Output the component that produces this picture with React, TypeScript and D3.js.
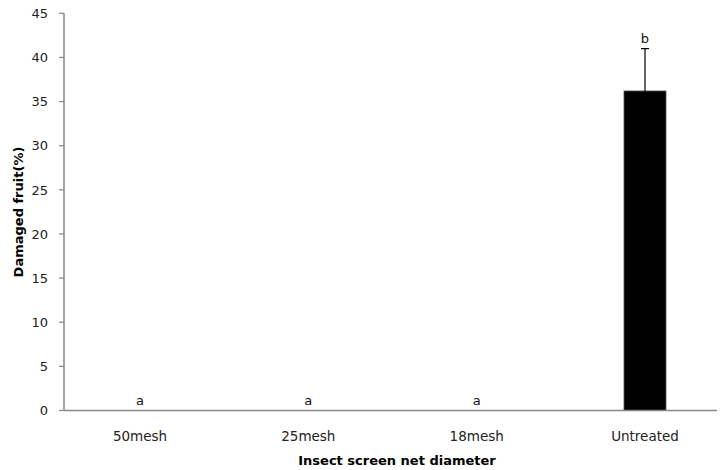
import React from "react";
import * as d3 from "d3";

const categories = ["50mesh", "25mesh", "18mesh", "Untreated"];
const values = [0, 0, 0, 36.2];
const errors = [0, 0, 0, 4.8];
const letters = ["a", "a", "a", "b"];
const yTicks = [0, 5, 10, 15, 20, 25, 30, 35, 40, 45];

const W = 720;
const H = 470;
const axisX = 64;
const axisRight = 717;
const yTop = 13.3;
const yBottom = 410.5;

export default function App() {
  const y = d3.scaleLinear().domain([0, 45]).range([yBottom, yTop]);
  const x = d3.scalePoint<string>().domain(categories).range([140, 645]);
  const barW = 42;
  const font = "'DejaVu Sans', Tahoma, sans-serif";
  const axisColor = "#878787";

  return (
    <svg width={W} height={H} style={{ position: "absolute", left: 0, top: 0, background: "#fff" }}>
      {/* y axis */}
      <line x1={axisX} x2={axisX} y1={yTop} y2={yBottom} stroke={axisColor} strokeWidth={1.5} />
      {yTicks.map((t) => (
        <g key={t}>
          <line x1={axisX - 5} x2={axisX} y1={y(t)} y2={y(t)} stroke={axisColor} strokeWidth={1.2} />
          <text x={48} y={y(t)} dy="0.36em" textAnchor="end" fontFamily={font} fontSize={13} fill="#222">
            {t}
          </text>
        </g>
      ))}
      {/* bars */}
      {categories.map((c, i) => {
        const cx = x(c)!;
        const top = y(values[i] + errors[i]);
        return (
          <g key={c}>
            {values[i] > 0 && (
              <rect x={cx - barW / 2} y={y(values[i])} width={barW} height={yBottom - y(values[i])} fill="#000" stroke="#555" strokeWidth={0.8} />
            )}
            {errors[i] > 0 && (
              <g stroke="#000" strokeWidth={1.2}>
                <line x1={cx} x2={cx} y1={y(values[i])} y2={top} />
                <line x1={cx - 4} x2={cx + 4} y1={top} y2={top} />
              </g>
            )}
            <text x={cx} y={top - 6} textAnchor="middle" fontFamily={font} fontSize={13} fill="#111">
              {letters[i]}
            </text>
            <text x={cx} y={441} textAnchor="middle" fontFamily={font} fontSize={13.5} fill="#222">
              {c}
            </text>
          </g>
        );
      })}
      {/* x axis */}
      <line x1={axisX} x2={axisRight} y1={yBottom} y2={yBottom} stroke={axisColor} strokeWidth={1.5} />
      {/* titles */}
      <text x={397} y={465} textAnchor="middle" fontFamily={font} fontSize={13} fontWeight="bold" fill="#000">
        Insect screen net diameter
      </text>
      <text
        transform={`translate(23, 212) rotate(-90)`}
        textAnchor="middle"
        fontFamily={font}
        fontSize={13}
        fontWeight="bold"
        fill="#000"
      >
        Damaged fruit(%)
      </text>
    </svg>
  );
}
